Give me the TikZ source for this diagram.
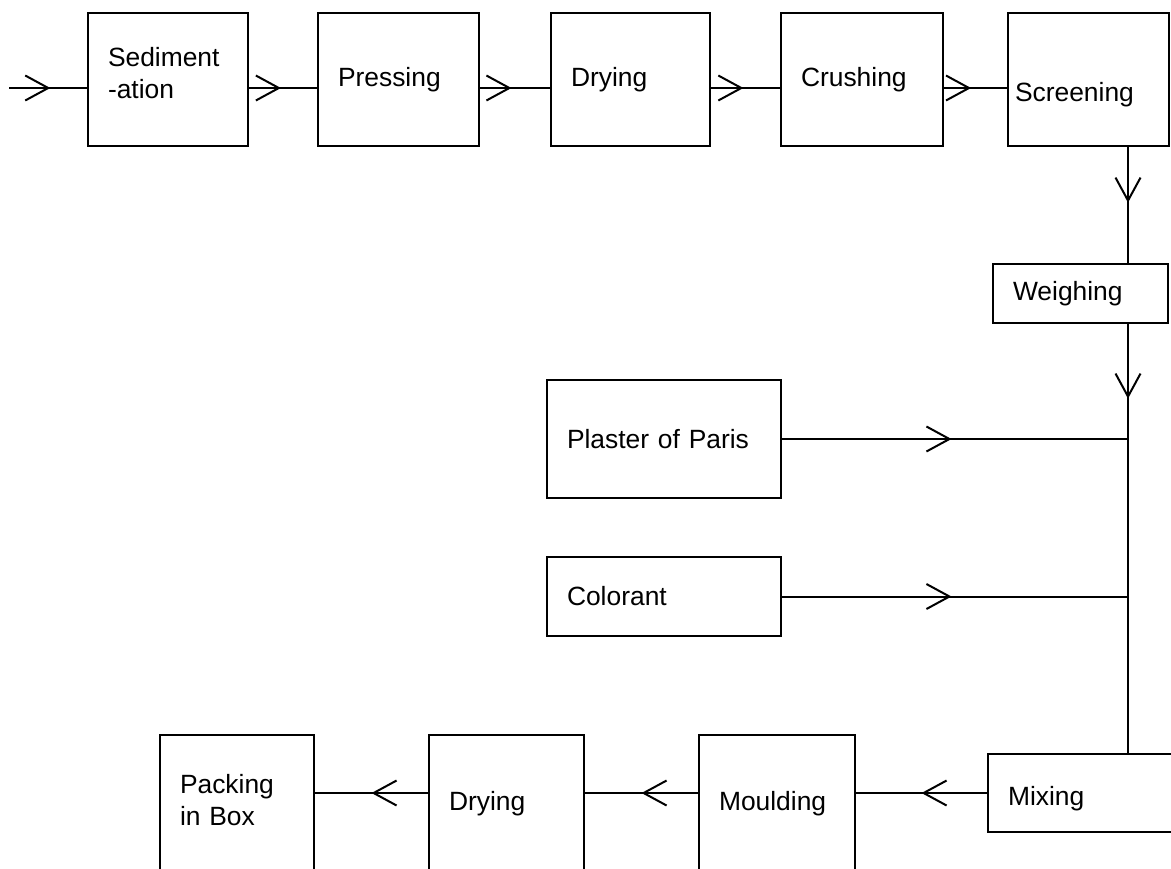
\documentclass[tikz,border=0pt]{standalone}
\usepackage{fontspec}
\setmainfont{Liberation Sans}
\usetikzlibrary{arrows.meta,decorations.markings}

\tikzset{
  stage/.style={draw, line width=1pt, rectangle, anchor=north west, inner xsep=10pt, inner ysep=0pt,
    align=left, font=\fontsize{13.2pt}{16pt}\selectfont},
  flow/.style={line width=1pt, postaction={decorate},
    decoration={markings, mark=at position #1 with {\arrow{Straight Barb[length=11.5pt,width=12.5pt,line width=1pt]}}}}
}

\begin{document}
\begin{tikzpicture}[x=0.5pt, y=-0.5pt]
  \path[use as bounding box, fill=white] (0,0) rectangle (1171,868);

  \node[stage, text width=60pt, minimum height=66.5pt, text depth=23pt] (sed) at (87,12) {Sediment\\-ation};
  \node[stage, text width=60.5pt, minimum height=66.5pt] (press) at (317,12) {Pressing};
  \node[stage, text width=59.5pt, minimum height=66.5pt] (dry) at (550,12) {Drying};
  \node[stage, text width=61pt, minimum height=66.5pt] (crush) at (780,12) {Crushing};
  \node[stage, inner xsep=3.5pt, text width=73.5pt, minimum height=66.5pt, text height=24.5pt] (screen) at (1007,12) {Screening};
  \node[stage, text width=67.5pt, minimum height=29.5pt] (weigh) at (992,263) {Weighing};
  \node[stage, text width=97pt, minimum height=59pt] (plaster) at (546,379) {Plaster of Paris};
  \node[stage, text width=97pt, minimum height=39.5pt] (color) at (546,556) {Colorant};
  \node[stage, text width=76.5pt, minimum height=39pt, text height=15.5pt] (mix) at (987,753) {Mixing};
  \node[stage, text width=58pt, minimum height=67.5pt, text height=11pt] (mould) at (698,734) {Moulding};
  \node[stage, text width=57.5pt, minimum height=67.5pt, text height=11pt] (dry2) at (428,734) {Drying};
  \node[stage, text width=57pt, minimum height=67.5pt, text depth=19pt] (pack) at (159,734) {Packing\\in Box};

  \coordinate (feed) at (9,88);
  \coordinate (spine) at (1128,0);

  \draw[flow=0.53] (feed) -- (sed.west |- feed);
  \draw[flow=0.47] (sed.east |- feed) -- (press.west |- feed);
  \draw[flow=0.45] (press.east |- feed) -- (dry.west |- feed);
  \draw[flow=0.47] (dry.east |- feed) -- (crush.west |- feed);
  \draw[flow=0.43] (crush.east |- feed) -- (screen.west |- feed);
  \draw[flow=0.48] (screen.south -| spine) -- (weigh.north -| spine);
  \draw[flow=0.174] (weigh.south -| spine) -- (mix.north -| spine);
  \draw[flow=0.49] (plaster.east) -- (plaster.east -| spine);
  \draw[flow=0.49] (color.east) -- (color.east -| spine);
  \draw[flow=0.5] (mix.west) -- (mould.east |- mix.west);
  \draw[flow=0.5] (mould.west |- mix.west) -- (dry2.east |- mix.west);
  \draw[flow=0.5] (dry2.west |- mix.west) -- (pack.east |- mix.west);
\end{tikzpicture}
\end{document}
